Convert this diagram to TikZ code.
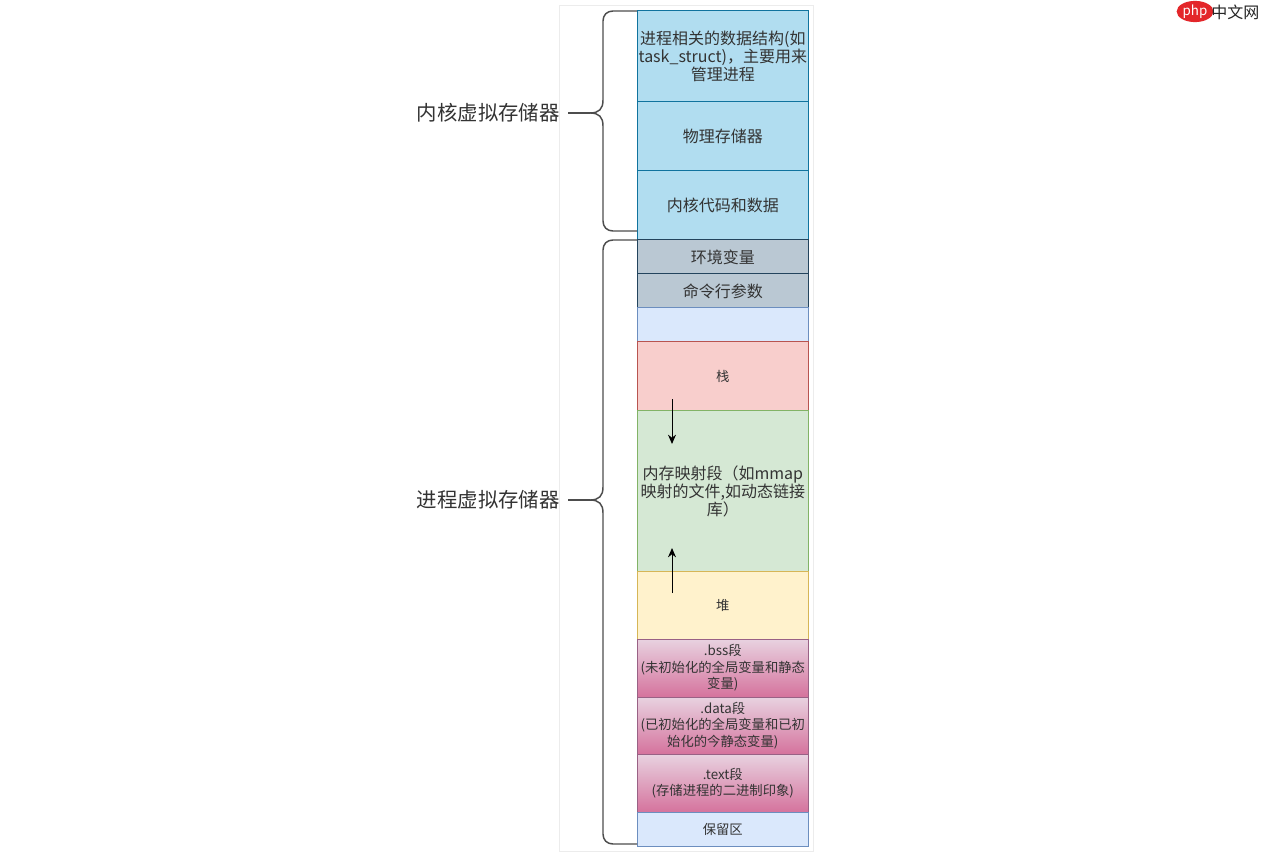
\documentclass[tikz,border=0pt]{standalone}
\usepackage{fontspec}
\setmainfont{Noto Sans CJK SC}
\usetikzlibrary{arrows.meta,shapes.geometric}
\definecolor{txt}{HTML}{333333}
\definecolor{kfill}{HTML}{B1DDF0}
\definecolor{kdraw}{HTML}{10739E}
\definecolor{gfill}{HTML}{BAC8D3}
\definecolor{gdraw}{HTML}{23445D}
\definecolor{bfill}{HTML}{DAE8FC}
\definecolor{bdraw}{HTML}{6C8EBF}
\definecolor{rfill}{HTML}{F8CECC}
\definecolor{rdraw}{HTML}{B85450}
\definecolor{grfill}{HTML}{D5E8D4}
\definecolor{grdraw}{HTML}{82B366}
\definecolor{yfill}{HTML}{FFF2CC}
\definecolor{ydraw}{HTML}{D6B656}
\definecolor{ptop}{HTML}{E8D2E0}
\definecolor{pbot}{HTML}{D5739D}
\definecolor{pdraw}{HTML}{996185}
\definecolor{bracec}{HTML}{4D4D4D}
\definecolor{framec}{HTML}{ECECEC}
\definecolor{phpred}{HTML}{E3262A}
\tikzset{
  seg/.style={draw, inner sep=0pt, minimum width=128.25pt, align=center, text=txt, line width=0.75pt,
    font={\fontsize{12pt}{13.5pt}\selectfont}},
  segsmall/.style={seg, font={\fontsize{10pt}{12.4pt}\selectfont}},
  pinkseg/.style={segsmall, top color=ptop, bottom color=pbot, draw=pdraw},
  bracepath/.style={draw=bracec, line width=1.1pt, line join=round},
  biglabel/.style={text=txt, inner ysep=0pt, inner xsep=6pt, font={\fontsize{15.3pt}{17pt}\selectfont}},
  growarrow/.style={draw=black, line width=0.75pt, -{Stealth[length=7pt,width=6pt]}}
}
\begin{document}
\begin{tikzpicture}[x=0.75pt,y=-0.75pt]
\useasboundingbox (0,0) rectangle (1261,852);
\fill[white] (0,0) rectangle (1261,852);
% faint frame
\draw[framec, line width=0.75pt] (559,6) rectangle (813,851);

% kernel part
\node[seg, fill=kfill, draw=kdraw, minimum height=91*0.75pt] (k1) at (722.8,56.5)
  {进程相关的数据结构(如\\task\_struct)，主要用来\\管理进程};
\node[seg, fill=kfill, draw=kdraw, minimum height=69*0.75pt] (k2) at (722.8,136.5) {物理存储器};
\node[seg, fill=kfill, draw=kdraw, minimum height=69*0.75pt] (k3) at (722.8,205.5) {内核代码和数据};

% process part
\node[seg, fill=gfill, draw=gdraw, minimum height=34*0.75pt] (env) at (722.8,257) {环境变量};
\node[seg, fill=gfill, draw=gdraw, minimum height=34*0.75pt] (argv) at (722.8,291) {命令行参数};
\node[seg, fill=bfill, draw=bdraw, minimum height=34*0.75pt] (gap) at (722.8,325) {};
\node[segsmall, fill=rfill, draw=rdraw, minimum height=69*0.75pt] (stack) at (722.8,376.5) {栈};
\node[seg, fill=grfill, draw=grdraw, minimum height=160*0.75pt] (mmap) at (722.8,491)
  {内存映射段（如mmap\\映射的文件,如动态链接\\库）};
\node[segsmall, fill=yfill, draw=ydraw, minimum height=68*0.75pt] (heap) at (722.8,605) {堆};
\node[pinkseg, minimum height=58*0.75pt] (bss) at (722.8,668)
  {.bss段\\(未初始化的全局变量和静态\\变量)};
\node[pinkseg, minimum height=57*0.75pt] (data) at (722.8,725.5)
  {.data段\\(已初始化的全局变量和已初\\始化的今静态变量)};
\node[pinkseg, minimum height=58*0.75pt] (text) at (722.8,783)
  {.text段\\(存储进程的二进制印象)};
\node[segsmall, fill=bfill, draw=bdraw, minimum height=34*0.75pt] (resv) at (722.8,829) {保留区};

% growth arrows
\coordinate (sdA) at (672,399.5);
\coordinate (sdB) at (672,444);
\coordinate (huA) at (672,593);
\coordinate (huB) at (672,548);
\draw[growarrow] (sdA) -- (sdB);
\draw[growarrow] (huA) -- (huB);

% braces
\draw[bracepath] (637,11) -- (613,11) .. controls (607,11) and (603,15) .. (603,21) -- (603,100)
  .. controls (603,109) and (599,113) .. (590,113)
  .. controls (599,113) and (603,117) .. (603,126) -- (603,221)
  .. controls (603,227) and (607,231) .. (613,231) -- (637,231);
\coordinate (ktip) at (590,113);
\draw[bracepath] (637,240) -- (613,240) .. controls (607,240) and (603,244) .. (603,250) -- (603,487)
  .. controls (603,496) and (599,500) .. (590,500)
  .. controls (599,500) and (603,504) .. (603,513) -- (603,834)
  .. controls (603,840) and (607,844) .. (613,844) -- (637,844);
\coordinate (ptip) at (590,500);

% labels
\node[biglabel, anchor=east] (klabel) at (568,113) {内核虚拟存储器};
\node[biglabel, anchor=east] (plabel) at (568,500) {进程虚拟存储器};
\draw[bracepath] (klabel.east) -- (ktip);
\draw[bracepath] (plabel.east) -- (ptip);

% watermark
\node[ellipse, fill=phpred, text=white, inner sep=0.5pt, minimum width=21pt, minimum height=13pt,
  font={\fontsize{10pt}{10pt}\selectfont\itshape}] (phplogo) at (1195,11.5) {php};
\node[text=black!85, inner sep=0pt, font={\fontsize{12pt}{12pt}\selectfont}, anchor=west] (phpcn) at (1211,12) {中文网};
\end{tikzpicture}
\end{document}
